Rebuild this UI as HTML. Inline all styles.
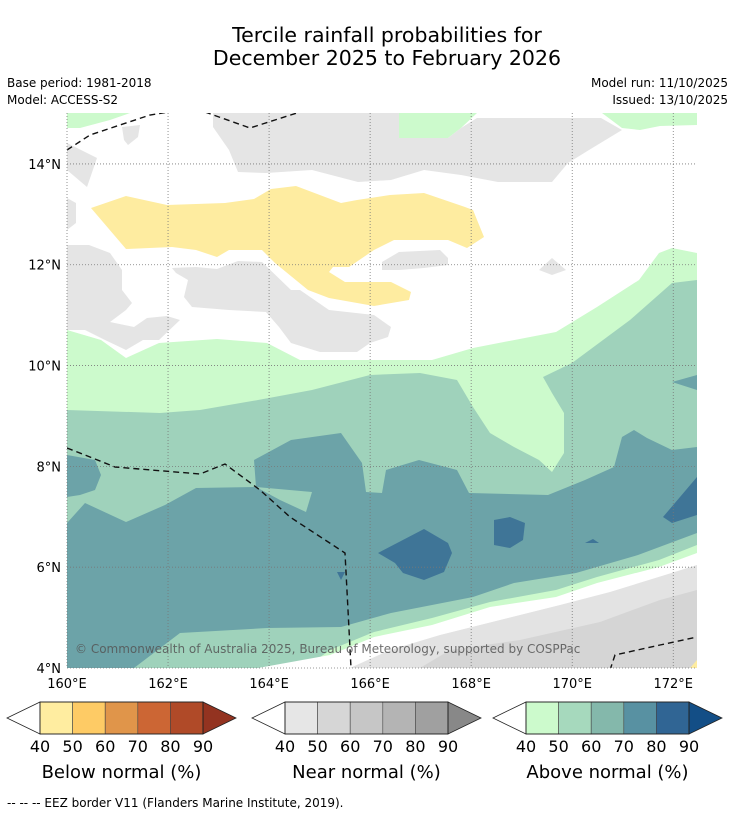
<!DOCTYPE html>
<html><head><meta charset="utf-8">
<style>
body{margin:0;background:#fff;width:736px;height:816px;overflow:hidden;font-family:"DejaVu Sans","Liberation Sans",sans-serif;}
svg text{font-family:"DejaVu Sans","Liberation Sans",sans-serif;}
</style></head><body>
<svg id="fig" width="736" height="816" viewBox="0 0 736 816" xmlns="http://www.w3.org/2000/svg">
<rect width="736" height="816" fill="#fff"/>
<text x="387" y="42" font-size="20.5" text-anchor="middle">Tercile rainfall probabilities for</text>
<text x="387" y="65" font-size="20.5" text-anchor="middle">December 2025 to February 2026</text>
<text x="7" y="87" font-size="12">Base period: 1981-2018</text>
<text x="7" y="104" font-size="12">Model: ACCESS-S2</text>
<text x="728" y="87" font-size="12" text-anchor="end">Model run: 11/10/2025</text>
<text x="728" y="104" font-size="12" text-anchor="end">Issued: 13/10/2025</text>
<defs><clipPath id="mapclip"><rect x="67" y="113" width="630" height="555"/></clipPath></defs>
<g id="map" clip-path="url(#mapclip)"></g>
<g id="axes"></g>
<g id="cbars"></g>
<text x="7" y="807" font-size="12">--  --  -- EEZ border V11 (Flanders Marine Institute, 2019).</text>
</svg>
<script>
const NS='http://www.w3.org/2000/svg';
// axis extents
const lonTicks=[160,162,164,166,168,170,172];
const latTicks=[4,6,8,10,12,14];
const lonMin=160, lonMax=172.47, latMin=4, latMax=15.01;
const X0=67,X1=697,Y0=668,Y1=113;
function xs(lon){return X0+(lon-lonMin)/(lonMax-lonMin)*(X1-X0);}
function ys(lat){return Y0-(lat-latMin)/(latMax-latMin)*(Y0-Y1);}
// contour region outlines (traced from the forecast field, in map pixel units)
const regions=[
 ['above-40','#ccfacc',[[67,330],[101,340],[126,358],[159,343],[217,339],[267,343],[300,360],[432,360],[473,348],[556,332],[597,307],[639,280],[659,253],[672,248],[697,253],[697,668],[67,668]]],
 ['above-40-top-a','#ccfacc',[[67,113],[130,113],[110,120],[80,128],[67,128]]],
 ['above-40-top-b','#ccfacc',[[399,113],[477,113],[461,128],[448,138],[399,138]]],
 ['above-40-top-c','#ccfacc',[[602,113],[697,113],[697,125],[660,126],[640,130],[622,128]]],
 ['above-50','#9fd2bb',[[67,410],[160,413],[200,410],[258,400],[312,390],[370,375],[420,373],[457,380],[473,407],[490,433],[514,447],[539,460],[552,472],[564,453],[564,413],[552,393],[543,377],[572,363],[630,320],[672,283],[697,280],[697,545],[659,560],[597,577],[556,590],[490,602],[432,618],[374,632],[330,650],[305,668],[67,668]]],
 ['above-60','#6ca3a8',[[67,523],[85,503],[126,522],[165,505],[196,488],[256,487],[254,460],[291,440],[341,433],[362,463],[366,492],[382,493],[386,470],[419,460],[457,470],[469,493],[548,495],[585,480],[614,467],[622,437],[634,430],[647,438],[672,450],[697,447],[697,533],[638,555],[576,573],[514,583],[473,597],[391,613],[341,627],[267,628],[180,633],[134,668],[67,668]]],
 ['above-60-left','#6ca3a8',[[67,455],[95,460],[101,475],[95,490],[80,495],[67,497]]],
 ['above-60-right','#6ca3a8',[[672,382],[697,375],[697,390]]],
 ['above-50-notch','#9fd2bb',[[256,487],[312,492],[306,512],[280,500]]],
 ['above-70-a','#3f7597',[[378,553],[424,529],[448,543],[452,553],[444,572],[424,580],[403,573],[395,563]]],
 ['above-70-b','#3f7597',[[494,520],[510,517],[525,523],[523,540],[510,548],[494,545]]],
 ['above-70-c','#3f7597',[[585,543],[593,539],[599,543]]],
 ['above-70-d','#3f7597',[[697,477],[680,497],[663,517],[672,523],[697,515]]],
 ['above-70-e','#3f7597',[[337,572],[345,572],[341,580]]],
 ['nowin-strip','#ffffff',[[258,668],[330,655],[374,637],[432,625],[490,607],[556,597],[597,583],[659,567],[697,553],[697,668]]],
 ['near-40-bottom','#e3e3e3',[[350,668],[390,650],[440,635],[500,620],[560,605],[610,592],[665,575],[697,565],[697,668]]],
 ['near-50-bottom','#d5d5d5',[[420,668],[450,650],[520,640],[600,622],[660,600],[697,590],[697,668]]],
 ['near-40-top','#e5e5e5',[[213,113],[399,113],[399,138],[448,138],[461,128],[477,118],[601,118],[622,130],[589,150],[568,163],[552,182],[498,182],[461,175],[424,170],[391,180],[358,182],[312,170],[266,173],[238,172],[229,150],[213,127]]],
 ['near-40-a','#e5e5e5',[[122,127],[140,125],[138,137],[128,145],[124,140]]],
 ['near-40-b','#e5e5e5',[[67,143],[97,158],[87,187],[67,170]]],
 ['near-40-c','#e5e5e5',[[67,198],[76,203],[76,223],[67,230]]],
 ['near-40-d','#e5e5e5',[[67,245],[89,245],[110,253],[122,270],[122,290],[132,303],[126,310],[110,322],[134,327],[147,318],[167,316],[180,320],[159,340],[143,340],[126,350],[105,340],[85,330],[67,330]]],
 ['near-40-e','#e5e5e5',[[172,268],[196,267],[217,269],[238,261],[262,262],[291,290],[300,290],[329,310],[374,315],[391,327],[388,337],[370,343],[357,352],[320,352],[291,343],[279,327],[266,312],[229,310],[192,307],[184,297],[188,280],[176,273]]],
 ['near-40-f','#e5e5e5',[[382,262],[399,252],[440,250],[448,258],[448,265],[424,268],[399,270],[382,270]]],
 ['near-40-g','#e5e5e5',[[539,270],[552,258],[566,270],[552,275]]],
 ['below-40','#feeca0',[[91,208],[126,196],[167,205],[225,203],[254,199],[271,189],[296,186],[341,203],[357,200],[390,195],[424,193],[465,207],[473,210],[484,237],[467,248],[448,240],[394,240],[374,250],[349,267],[333,267],[329,272],[345,282],[391,282],[411,292],[409,300],[374,306],[329,298],[308,290],[275,263],[262,250],[229,250],[217,257],[196,250],[172,247],[126,249]]],
 ['below-40-dot','#feeca0',[[697,660],[697,668],[690,668]]]
];
const eezLines=[
 [[67,150],[90,135],[120,125],[150,115],[175,111]],
 [[205,112],[250,128],[300,112]],
 [[67,448],[85,455],[115,467],[200,474],[225,464],[260,490],[290,517],[345,553],[348,610],[351,668]],
 [[610,670],[615,655],[660,645],[697,637]]
];
const map=document.getElementById('map');
const bg=document.createElementNS(NS,'rect');
bg.setAttribute('x',X0);bg.setAttribute('y',Y1);bg.setAttribute('width',X1-X0);bg.setAttribute('height',Y0-Y1);bg.setAttribute('fill','#fff');


map.appendChild(bg);
regions.forEach(r=>{
  const p=document.createElementNS(NS,'polygon');
  p.setAttribute('points',r[2].map(q=>q.join(',')).join(' '));
  p.setAttribute('fill',r[1]);
  
  
  map.appendChild(p);
});
eezLines.forEach((l,i)=>{
  const p=document.createElementNS(NS,'polyline');
  p.setAttribute('points',l.map(q=>q.join(',')).join(' '));
  p.setAttribute('fill','none');p.setAttribute('stroke','#111');p.setAttribute('stroke-width','1.4');p.setAttribute('stroke-dasharray','6,4');
  
  
  map.appendChild(p);
});
const ax=document.getElementById('axes');
lonTicks.forEach(v=>{
  const x=xs(v);
  const l=document.createElementNS(NS,'line');
  l.setAttribute('x1',x);l.setAttribute('x2',x);l.setAttribute('y1',Y1);l.setAttribute('y2',Y0);
  l.setAttribute('stroke','#777');l.setAttribute('stroke-width','0.8');l.setAttribute('stroke-dasharray','1,2');
  
  
  ax.appendChild(l);
  const t=document.createElementNS(NS,'text');
  t.setAttribute('x',x);t.setAttribute('y',688);t.setAttribute('font-size','13');t.setAttribute('text-anchor','middle');
  t.textContent=v+'°E';
  
  
  ax.appendChild(t);
});
latTicks.forEach(v=>{
  const y=ys(v);
  const l=document.createElementNS(NS,'line');
  l.setAttribute('x1',X0);l.setAttribute('x2',X1);l.setAttribute('y1',y);l.setAttribute('y2',y);
  l.setAttribute('stroke','#777');l.setAttribute('stroke-width','0.8');l.setAttribute('stroke-dasharray','1,2');
  
  
  ax.appendChild(l);
  const t=document.createElementNS(NS,'text');
  t.setAttribute('x',61);t.setAttribute('y',y+5);t.setAttribute('font-size','13');t.setAttribute('text-anchor','end');
  t.textContent=v+'°N';
  
  
  ax.appendChild(t);
});
const cp=document.createElementNS(NS,'text');
cp.setAttribute('x',75);cp.setAttribute('y',653);cp.setAttribute('font-size','12');cp.setAttribute('fill','#555');cp.setAttribute('opacity','0.85');
cp.textContent='© Commonwealth of Australia 2025, Bureau of Meteorology, supported by COSPPac';


ax.appendChild(cp);
// colorbars
const cbLevels=[40,50,60,70,80,90];
const cbTitles=['Below normal (%)','Near normal (%)','Above normal (%)'];
const cbColors=[
 ['#ffeda0','#fecb65','#e0954a','#cc6634','#b04a28','#933320'],
 ['#e6e6e6','#d6d6d6','#c6c6c6','#b4b4b4','#a0a0a0','#888888'],
 ['#ccfacc','#a6d9bd','#84b8ab','#5891a2','#306594','#134e86']
];
const cbX=[40,285,526], cbW=163, cbTop=702, cbH=32, tri=33;
const cb=document.getElementById('cbars');
cbX.forEach((x0,i)=>{
  const g=document.createElementNS(NS,'g');
  
  
  cb.appendChild(g);
  const bw=cbW/5;
  const lt=document.createElementNS(NS,'polygon');
  lt.setAttribute('points',`${x0},${cbTop} ${x0-tri},${cbTop+cbH/2} ${x0},${cbTop+cbH}`);
  lt.setAttribute('fill','#fff');lt.setAttribute('stroke','#222');lt.setAttribute('stroke-width','0.8');
  
  
  g.appendChild(lt);
  for(let k=0;k<5;k++){
    const r=document.createElementNS(NS,'rect');
    r.setAttribute('x',x0+k*bw);r.setAttribute('y',cbTop);r.setAttribute('width',bw);r.setAttribute('height',cbH);
    r.setAttribute('fill',cbColors[i][k]);r.setAttribute('stroke','#444');r.setAttribute('stroke-width','0.6');
    
    
    g.appendChild(r);
  }
  const rt=document.createElementNS(NS,'polygon');
  const xe=x0+cbW;
  rt.setAttribute('points',`${xe},${cbTop} ${xe+tri},${cbTop+cbH/2} ${xe},${cbTop+cbH}`);
  rt.setAttribute('fill',cbColors[i][5]);rt.setAttribute('stroke','#222');rt.setAttribute('stroke-width','0.8');
  
  
  g.appendChild(rt);
  const fr=document.createElementNS(NS,'rect');
  fr.setAttribute('x',x0);fr.setAttribute('y',cbTop);fr.setAttribute('width',cbW);fr.setAttribute('height',cbH);
  fr.setAttribute('fill','none');fr.setAttribute('stroke','#222');fr.setAttribute('stroke-width','0.9');
  
  
  g.appendChild(fr);
  cbLevels.forEach((v,k)=>{
    const t=document.createElementNS(NS,'text');
    t.setAttribute('x',x0+k*bw);t.setAttribute('y',752);t.setAttribute('font-size','16');t.setAttribute('text-anchor','middle');
    t.textContent=v;
    
    
    g.appendChild(t);
  });
  const tt=document.createElementNS(NS,'text');
  tt.setAttribute('x',x0+cbW/2);tt.setAttribute('y',778);tt.setAttribute('font-size','18');tt.setAttribute('text-anchor','middle');
  tt.textContent=cbTitles[i];
  
  
  g.appendChild(tt);
});
</script>
</body></html>
